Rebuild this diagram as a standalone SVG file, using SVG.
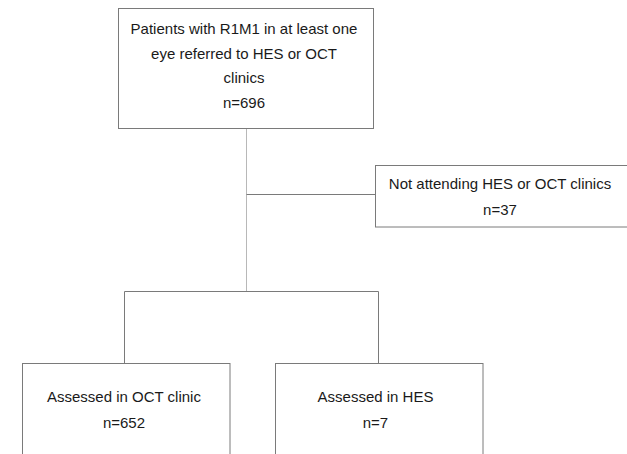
<svg xmlns="http://www.w3.org/2000/svg" width="627" height="454" viewBox="0 0 627 454">
<style>
.box{fill:#fff;stroke:#7a7a7a;stroke-width:1}
.t{font-family:"Liberation Sans",Arial,sans-serif;font-size:15px;fill:#1a1a1a;text-anchor:middle}
.c{fill:none;stroke:#7a7a7a;stroke-width:1}
.stem{fill:none;stroke:#b8b8b8;stroke-width:1}
</style>
<rect width="627" height="454" fill="#fff"/>
<g id="connectors">
<line class="stem" x1="246.5" y1="128" x2="246.5" y2="292"/>
<line class="c" x1="246.5" y1="194.5" x2="375" y2="194.5"/>
<polyline class="c" points="124.5,363 124.5,291.5 378.5,291.5 378.5,363"/>
</g>
<g id="n1">
<rect class="box" x="118.5" y="8.5" width="255" height="120"/>
<text class="t" x="244" y="34">Patients with R1M1 in at least one</text>
<text class="t" x="244" y="58.5">eye referred to HES or OCT</text>
<text class="t" x="244" y="83">clinics</text>
<text class="t" x="244" y="107.5">n=696</text>
</g>
<g id="n2">
<rect class="box" x="375.5" y="165.5" width="260" height="61.5"/>
<text class="t" x="500" y="189">Not attending HES or OCT clinics</text>
<text class="t" x="500" y="214.5">n=37</text>
</g>
<g id="n3">
<rect class="box" x="22.5" y="363.5" width="207.5" height="100"/>
<text class="t" x="124" y="402">Assessed in OCT clinic</text>
<text class="t" x="124" y="428">n=652</text>
</g>
<g id="n4">
<rect class="box" x="275.5" y="363.5" width="207.5" height="100"/>
<text class="t" x="375.5" y="402">Assessed in HES</text>
<text class="t" x="375.5" y="428">n=7</text>
</g>
</svg>
